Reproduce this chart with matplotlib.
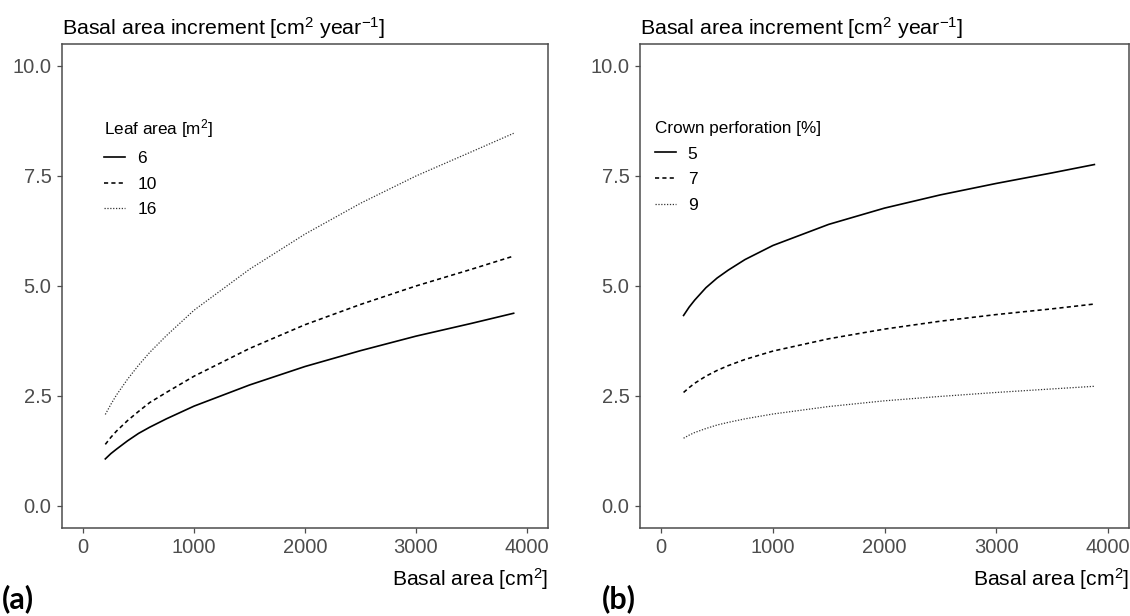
import matplotlib
matplotlib.use("Agg")
import matplotlib.pyplot as plt

plt.rcParams['font.family'] = ['Liberation Sans', 'DejaVu Sans']
plt.rcParams['mathtext.default'] = 'regular'

# basal area grid shared by both panels [cm2]
basal_area = [200, 250, 300, 400, 500, 600, 750, 1000, 1500, 2000, 2500, 3000, 3500, 3880]

# (a) basal area increment for three leaf areas [m2]
leaf_labels = ['6', '10', '16']
bai_leaf_6 = [1.07, 1.19, 1.29, 1.48, 1.65, 1.79, 1.98, 2.27, 2.75, 3.17, 3.53, 3.86, 4.15, 4.38]
bai_leaf_10 = [1.40, 1.56, 1.70, 1.94, 2.15, 2.35, 2.58, 2.95, 3.58, 4.12, 4.58, 5.00, 5.38, 5.68]
bai_leaf_16 = [2.08, 2.31, 2.52, 2.88, 3.20, 3.49, 3.87, 4.45, 5.38, 6.18, 6.88, 7.50, 8.05, 8.47]

# (b) basal area increment for three crown perforations [%]
perf_labels = ['5', '7', '9']
bai_perf_5 = [4.33, 4.52, 4.68, 4.96, 5.18, 5.36, 5.60, 5.92, 6.40, 6.77, 7.07, 7.33, 7.57, 7.76]
bai_perf_7 = [2.58, 2.69, 2.79, 2.95, 3.08, 3.19, 3.33, 3.52, 3.80, 4.02, 4.20, 4.35, 4.48, 4.59]
bai_perf_9 = [1.54, 1.61, 1.67, 1.76, 1.84, 1.90, 1.98, 2.09, 2.26, 2.39, 2.49, 2.58, 2.66, 2.72]

x_ticks = [0, 1000, 2000, 3000, 4000]
y_ticks = [0.0, 2.5, 5.0, 7.5, 10.0]

styles = [
    dict(ls='-', lw=1.2, color='black'),
    dict(ls=(0, (2.6, 2.0)), lw=1.15, color='black'),
    dict(ls=(0, (1.0, 1.3)), lw=0.9, color='#333333'),
]

axis_grey = '#4D4D4D'

fig = plt.figure(figsize=(11.3, 6.16), dpi=100)
ax_a = fig.add_axes([0.0549, 0.1429, 0.4301, 0.7857])
ax_b = fig.add_axes([0.5664, 0.1429, 0.4327, 0.7857])


def setup(ax):
    ax.set_xlim(-190, 4190)
    ax.set_ylim(-0.5, 10.5)
    ax.set_xticks(x_ticks)
    ax.set_yticks(y_ticks)
    ax.set_xticklabels([str(v) for v in x_ticks])
    ax.set_yticklabels(['%.1f' % v for v in y_ticks])
    for s in ax.spines.values():
        s.set_color(axis_grey)
        s.set_linewidth(1.1)
    ax.tick_params(length=3.5, width=0.9, color=axis_grey, labelcolor=axis_grey,
                   labelsize=14.5, pad=4)
    ax.text(0, 1.019, 'Basal area increment [cm$^2$ year$^{-1}$]',
            transform=ax.transAxes, ha='left', va='baseline', fontsize=15.4)
    ax.text(1, -0.12, 'Basal area [cm$^2$]', transform=ax.transAxes,
            ha='right', va='baseline', fontsize=15.2)


for ax, series, labels, title, anchor in [
    (ax_a, [bai_leaf_6, bai_leaf_10, bai_leaf_16], leaf_labels,
     'Leaf area [m$^2$]', (0.087, 0.848)),
    (ax_b, [bai_perf_5, bai_perf_7, bai_perf_9], perf_labels,
     'Crown perforation [%]', (0.030, 0.841)),
]:
    setup(ax)
    for y, lab, st in zip(series, labels, styles):
        ax.plot(basal_area, y, label=lab, **st)
    leg = ax.legend(loc='upper left', bbox_to_anchor=anchor, frameon=False,
                    title=title, alignment='left', fontsize=12.5,
                    title_fontsize=12.3, handlelength=1.2, handletextpad=0.7,
                    labelspacing=0.6, borderpad=0, borderaxespad=0)

fig.text(0.002, 0.013, '(a)', fontsize=22, fontweight='bold', family='Lato',
         ha='left', va='baseline')
fig.text(0.533, 0.013, '(b)', fontsize=22, fontweight='bold', family='Lato',
         ha='left', va='baseline')

fig.savefig('out.png', dpi=100)
